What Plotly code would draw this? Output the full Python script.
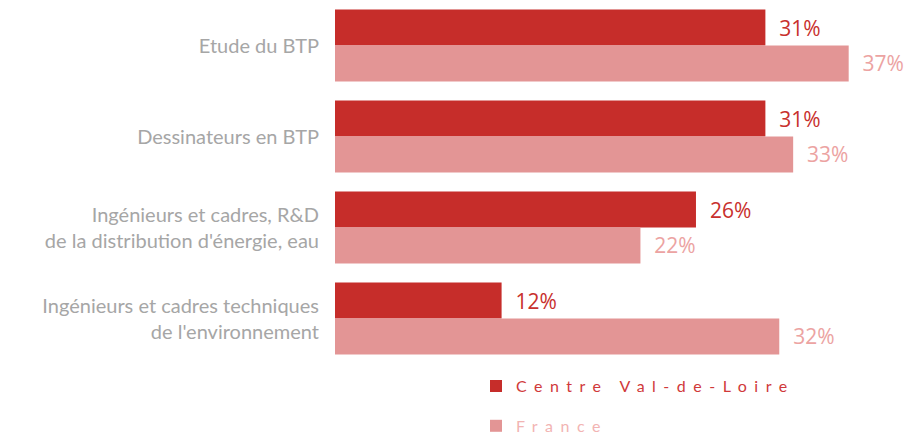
import plotly.graph_objects as go

# Share of jobs (in %) by occupation, region vs. national level
categories = [
    "Etude du BTP",
    "Dessinateurs en BTP",
    "Ingénieurs et cadres, R&D<br>de la distribution d'énergie, eau",
    "Ingénieurs et cadres techniques<br>de l'environnement",
]
centre_val_de_loire = [31, 31, 26, 12]
france = [37, 33, 22, 32]

series_names = ["Centre Val-de-Loire", "France"]
bar_colors = ["#C62D2A", "#E39595"]
label_colors = ["#C8302D", "#ECA3A2"]
legend_text_colors = ["#D0393A", "#F2B4B3"]

LABEL_FONT = "Lato, 'Noto Sans', sans-serif"
VALUE_FONT = "'Open Sans', 'Noto Sans', sans-serif"
PAD = "\u00a0\u00a0"

fig = go.Figure()
for name, values, bar_c, lab_c, leg_c in zip(
    series_names, [centre_val_de_loire, france], bar_colors, label_colors, legend_text_colors
):
    fig.add_trace(
        go.Bar(
            y=categories,
            x=values,
            orientation="h",
            name=f'<span style="color:{leg_c};letter-spacing:7.5px">{name}</span>',
            legendgroup=name,
            marker=dict(color=bar_c, line=dict(width=0)),
            text=[f"{PAD}{v}%" for v in values],
            textposition="outside",
            textfont=dict(family=VALUE_FONT, size=21, color=lab_c),
            constraintext="none",
            cliponaxis=False,
            hoverinfo="skip",
        )
    )

fig.update_layout(
    width=907,
    height=435,
    margin=dict(l=335, r=0, t=0, b=71, autoexpand=False),
    barmode="group",
    bargap=0.21,
    bargroupgap=0,
    plot_bgcolor="white",
    paper_bgcolor="white",
    showlegend=True,
    legend=dict(
        x=0.2465,
        xanchor="left",
        y=-0.014,
        yanchor="top",
        orientation="v",
        tracegroupgap=16,
        font=dict(family=LABEL_FONT, size=16),
        bgcolor="rgba(0,0,0,0)",
    ),
)
fig.update_xaxes(
    range=[0, 41.2],
    visible=False,
    showgrid=False,
    zeroline=False,
)
fig.update_yaxes(
    autorange="reversed",
    showgrid=False,
    zeroline=False,
    showline=False,
    ticks="",
    ticklabelstandoff=15,
    tickfont=dict(family=LABEL_FONT, size=20, color="#A6A6A6"),
)

fig.write_html("out.html")
